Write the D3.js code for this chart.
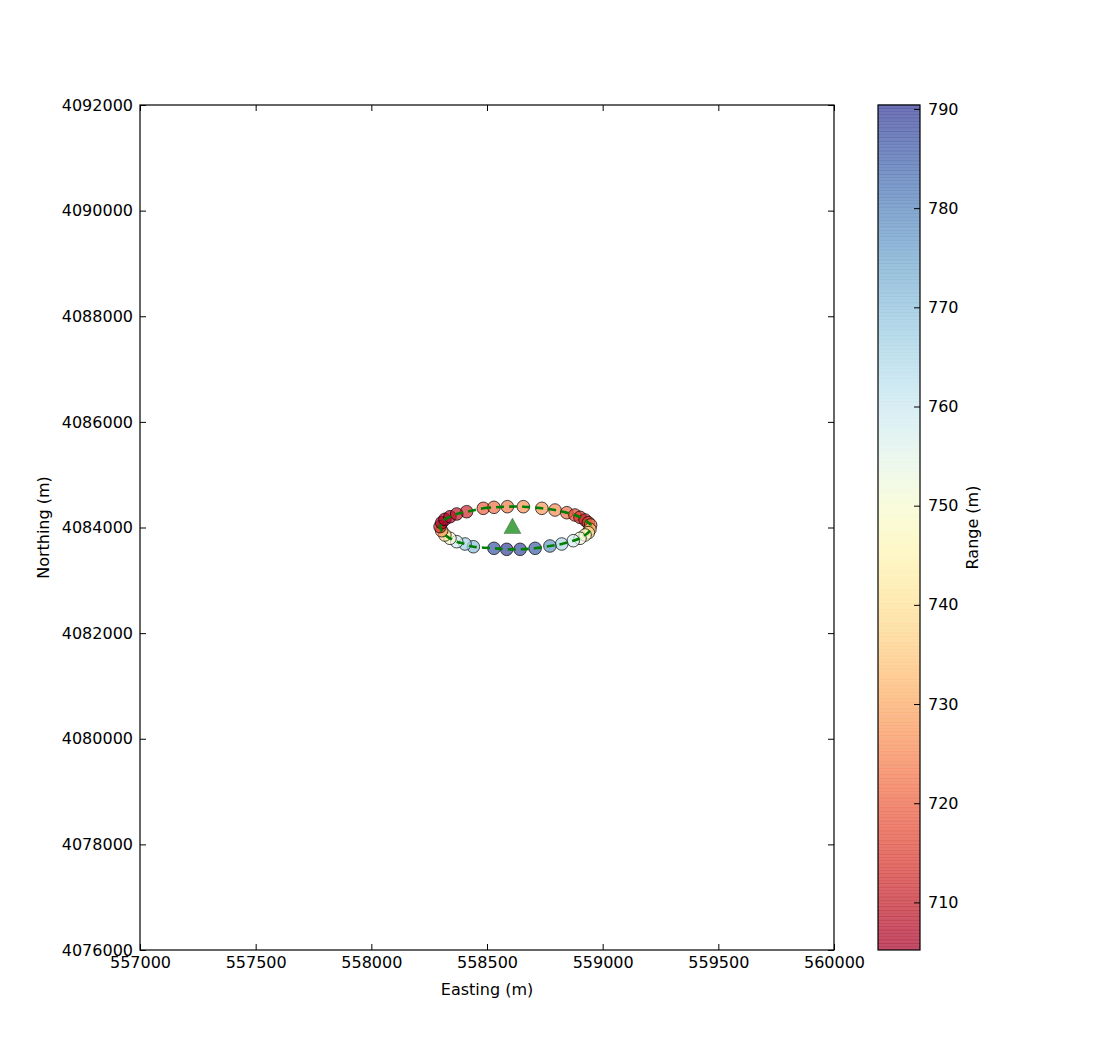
<!DOCTYPE html>
<html>
<head>
<meta charset="utf-8">
<script src="https://cdn.jsdelivr.net/npm/d3@7"></script>
<style>
  body { margin: 0; background: #fff; }
  svg text { font-family: "DejaVu Sans", sans-serif; }
</style>
</head>
<body>
<div id="chart"></div>
<script>
// track points (clockwise from top-left)
const easting = [558412, 558484, 558530, 558588, 558657, 558737, 558794, 558845, 558880, 558902,
                 558924, 558938, 558948, 558945, 558938, 558924, 558902, 558873, 558823, 558772,
                 558708, 558643, 558585, 558530, 558441, 558405, 558369, 558340, 558318, 558304,
                 558297, 558304, 558318, 558340, 558369];
const northing = [4084299, 4084363, 4084382, 4084394, 4084394, 4084363, 4084331, 4084280, 4084237, 4084193,
                  4084142, 4084091, 4084047, 4083966, 4083902, 4083858, 4083795, 4083750, 4083688, 4083650,
                  4083606, 4083587, 4083587, 4083606, 4083636, 4083688, 4083731, 4083795, 4083858, 4083939,
                  4084015, 4084091, 4084155, 4084204, 4084256];
const range = [712, 720, 722, 724, 727, 728, 726, 722, 717, 714,
               711, 715, 723, 733, 740, 748, 752, 758, 765, 777,
               785, 788, 789, 786, 770, 766, 758, 750, 740, 728,
               712, 706, 705.5, 706, 709];
const station = [558610, 4084028];

const xTicks = [557000, 557500, 558000, 558500, 559000, 559500, 560000];
const yTicks = [4076000, 4078000, 4080000, 4082000, 4084000, 4086000, 4088000, 4090000, 4092000];
const cTicks = [710, 720, 730, 740, 750, 760, 770, 780, 790];
const cDomain = [705.2, 790.4];

const W = 1120, H = 1056;
const plot = { left: 140, top: 105, width: 694, height: 845 };

const svg = d3.select('#chart').append('svg').attr('width', W).attr('height', H);

const x = d3.scaleLinear().domain([557000, 560000]).range([plot.left, plot.left + plot.width]);
const y = d3.scaleLinear().domain([4076000, 4092000]).range([plot.top + plot.height, plot.top]);
const color = t => d3.interpolateRdYlBu((t - cDomain[0]) / (cDomain[1] - cDomain[0]));

// axes, matplotlib classic style: ticks pointing inward on all four sides
const fmt = d3.format('d');
const styleAxis = g => {
  g.select('.domain').remove();
  g.selectAll('line').attr('stroke', '#000');
  g.selectAll('text').attr('font-size', '16px').attr('fill', '#000');
};
svg.append('g').attr('transform', `translate(0,${plot.top + plot.height})`)
  .call(d3.axisBottom(x).tickValues(xTicks).tickFormat(fmt).tickSize(-6).tickPadding(7)).call(styleAxis);
svg.append('g').attr('transform', `translate(0,${plot.top})`)
  .call(d3.axisTop(x).tickValues(xTicks).tickFormat('').tickSize(-6)).call(styleAxis);
svg.append('g').attr('transform', `translate(${plot.left},0)`)
  .call(d3.axisLeft(y).tickValues(yTicks).tickFormat(fmt).tickSize(-6).tickPadding(7)).call(styleAxis);
svg.append('g').attr('transform', `translate(${plot.left + plot.width},0)`)
  .call(d3.axisRight(y).tickValues(yTicks).tickFormat('').tickSize(-6)).call(styleAxis);

svg.append('rect').attr('x', plot.left).attr('y', plot.top)
  .attr('width', plot.width).attr('height', plot.height)
  .attr('fill', 'none').attr('stroke', '#000').attr('stroke-width', 1.2);

// points
const pts = easting.map((e, i) => ({ e, n: northing[i], r: range[i] }));
svg.append('g').selectAll('circle').data(pts).enter().append('circle')
  .attr('cx', d => x(d.e)).attr('cy', d => y(d.n)).attr('r', 6.3)
  .attr('fill', d => color(d.r)).attr('fill-opacity', 0.7)
  .attr('stroke', '#000').attr('stroke-opacity', 0.7).attr('stroke-width', 1);

// track line
const line = d3.line().x(d => x(d.e)).y(d => y(d.n)).curve(d3.curveCardinalClosed);
svg.append('path').datum(pts).attr('d', line)
  .attr('fill', 'none').attr('stroke', '#008000').attr('stroke-width', 2.6)
  .attr('stroke-dasharray', '8,5');

// station marker: triangle centred on its bounding box like matplotlib '^'
svg.append('path')
  .attr('d', 'M0,-8L8.5,7.5L-8.5,7.5Z')
  .attr('transform', `translate(${x(station[0])},${y(station[1])})`)
  .attr('fill', '#008000').attr('fill-opacity', 0.7)
  .attr('stroke', '#000').attr('stroke-opacity', 0.3).attr('stroke-width', 0.8);

// axis labels
svg.append('text').attr('x', plot.left + plot.width / 2).attr('y', 995)
  .attr('text-anchor', 'middle').attr('font-size', '16px').text('Easting (m)');
svg.append('text').attr('transform', `translate(49,${plot.top + plot.height / 2}) rotate(-90)`)
  .attr('text-anchor', 'middle').attr('font-size', '16px').text('Northing (m)');

// colorbar
const cb = { left: 878, width: 42 };
const cy = d3.scaleLinear().domain(cDomain).range([plot.top + plot.height, plot.top]);
const nSeg = 256;
const segs = d3.range(nSeg).map(i => cDomain[0] + (i + 0.5) * (cDomain[1] - cDomain[0]) / nSeg);
const segH = plot.height / nSeg;
svg.append('g').selectAll('rect').data(segs).enter().append('rect')
  .attr('x', cb.left).attr('width', cb.width)
  .attr('y', (d, i) => plot.top + plot.height - (i + 1) * segH - 0.4)
  .attr('height', segH + 0.4)
  .attr('fill', d => color(d)).attr('fill-opacity', 0.7);
svg.append('rect').attr('x', cb.left).attr('y', plot.top)
  .attr('width', cb.width).attr('height', plot.height)
  .attr('fill', 'none').attr('stroke', '#000').attr('stroke-width', 1.2);
const cg = svg.append('g').attr('transform', `translate(${cb.left + cb.width},0)`)
  .call(d3.axisRight(cy).tickValues(cTicks).tickFormat(fmt).tickSizeInner(-6).tickSizeOuter(0).tickPadding(8));
cg.select('.domain').remove();
cg.selectAll('line').attr('stroke', '#000');
cg.selectAll('text').attr('font-size', '16px').attr('fill', '#000');
svg.append('text').attr('transform', `translate(978,${plot.top + plot.height / 2}) rotate(-90)`)
  .attr('text-anchor', 'middle').attr('font-size', '16px').text('Range (m)');
</script>
</body>
</html>
